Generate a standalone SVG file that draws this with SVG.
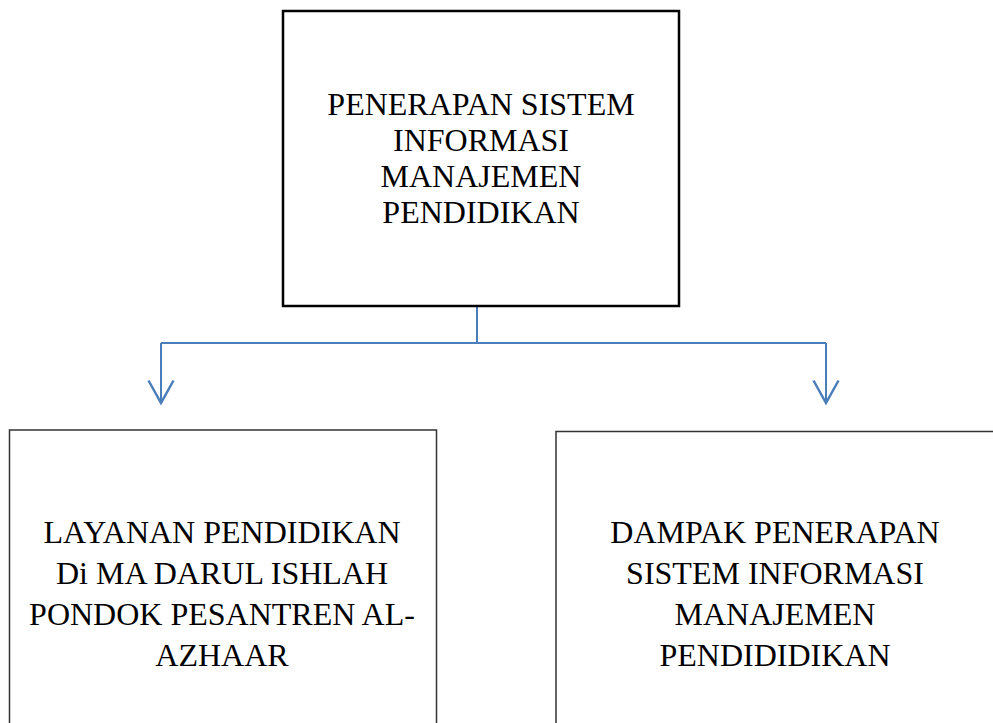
<svg xmlns="http://www.w3.org/2000/svg" width="993" height="723" viewBox="0 0 993 723">
  <style>
    .lbl { font-family: "Liberation Serif", "Times New Roman", serif; font-size: 32px; fill: #000; text-anchor: middle; }
    .top { fill: #fff; stroke: #000; stroke-width: 2.5; }
    .box { fill: #fff; stroke: #333; stroke-width: 1.5; }
    .conn { fill: none; stroke: #4a7ebb; stroke-width: 2; }
  </style>
  <defs>
    <marker id="arrow" markerUnits="userSpaceOnUse" markerWidth="30" markerHeight="30" refX="0" refY="0" orient="auto" viewBox="-20 -12 22 24" overflow="visible">
      <path d="M-18,-10 L0,0 L-18,10" fill="none" stroke="#4a7ebb" stroke-width="2"/>
    </marker>
  </defs>
  <rect width="993" height="723" fill="#fff"/>
  <g id="connectors">
    <path class="conn" d="M477,307 V343"/>
    <path class="conn" d="M161,343 H826"/>
    <path class="conn" d="M161,343 V403" marker-end="url(#arrow)"/>
    <path class="conn" d="M826,343 V403" marker-end="url(#arrow)"/>
  </g>
  <g id="node-penerapan">
    <rect class="top" x="283" y="11" width="396" height="295"/>
    <text class="lbl" x="481" y="115">PENERAPAN SISTEM</text>
    <text class="lbl" x="481" y="151">INFORMASI</text>
    <text class="lbl" x="481" y="187">MANAJEMEN</text>
    <text class="lbl" x="481" y="223">PENDIDIKAN</text>
  </g>
  <g id="node-layanan">
    <rect class="box" x="9.5" y="430" width="427" height="310"/>
    <text class="lbl" x="222" y="543">LAYANAN PENDIDIKAN</text>
    <text class="lbl" x="222" y="584">Di MA DARUL ISHLAH</text>
    <text class="lbl" x="222" y="625">PONDOK PESANTREN AL-</text>
    <text class="lbl" x="222" y="666">AZHAAR</text>
  </g>
  <g id="node-dampak">
    <rect class="box" x="556" y="431.5" width="450" height="310"/>
    <text class="lbl" x="775" y="543">DAMPAK PENERAPAN</text>
    <text class="lbl" x="775" y="584">SISTEM INFORMASI</text>
    <text class="lbl" x="775" y="625">MANAJEMEN</text>
    <text class="lbl" x="775" y="666">PENDIDIDIKAN</text>
  </g>
</svg>
